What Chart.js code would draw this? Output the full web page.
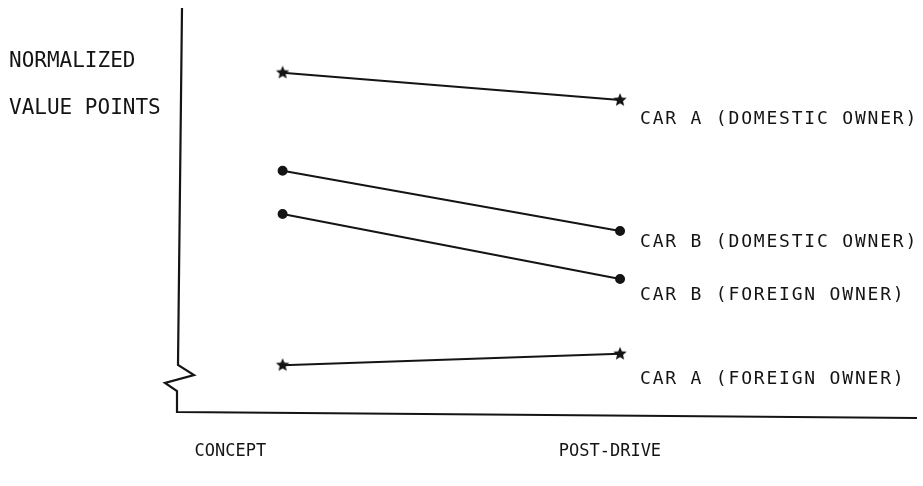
<!DOCTYPE html>
<html>
<head>
<meta charset="utf-8">
<script src="https://cdn.jsdelivr.net/npm/chart.js@4.4.0/dist/chart.umd.min.js"></script>
<style>
  html, body { margin: 0; background: #fff; }
</style>
</head>
<body>
<canvas id="chart" width="923" height="486"></canvas>
<script>
// data (arbitrary "value points" scale, 0-100)
const categories = ['CONCEPT', 'POST-DRIVE'];
const seriesNames = ['CAR A (DOMESTIC OWNER)', 'CAR B (DOMESTIC OWNER)', 'CAR B (FOREIGN OWNER)', 'CAR A (FOREIGN OWNER)'];
const carADomestic = [84, 77.2];
const carBDomestic = [59.7, 44.8];
const carBForeign = [49, 32.9];
const carAForeign = [11.6, 14.4];
const yTitle = ['NORMALIZED', 'VALUE POINTS'];

const ink = '#141414';
const mono = '"DejaVu Sans Mono", "Liberation Mono", monospace';

// filled five point star used as the Car A marker
function makeStar(r) {
  const c = document.createElement('canvas');
  c.width = c.height = r * 2 + 2;
  const g = c.getContext('2d');
  g.fillStyle = ink;
  g.beginPath();
  for (let i = 0; i < 10; i++) {
    const rad = i % 2 ? r * 0.45 : r;
    const a = -Math.PI / 2 + i * Math.PI / 5;
    g.lineTo(r + 1 + rad * Math.cos(a), r + 1 + rad * Math.sin(a));
  }
  g.closePath();
  g.fill();
  return c;
}
const star = makeStar(7);

const series = [carADomestic, carBDomestic, carBForeign, carAForeign];
const markers = [star, 'circle', 'circle', star];
const labelDy = [19, 11, 16, 26]; // end label offsets below the last point

const toPoints = arr => arr.map((v, i) => ({ x: i, y: v }));

// axes with the broken-scale zigzag, drawn by hand
const axesPlugin = {
  id: 'axes',
  beforeDatasetsDraw(chart) {
    const { ctx, chartArea: ca } = chart;
    ctx.save();
    ctx.strokeStyle = ink;
    ctx.lineWidth = 2.2;
    ctx.lineJoin = 'miter';
    ctx.beginPath();
    ctx.moveTo(ca.left + 4, ca.top);
    ctx.lineTo(ca.left, ca.bottom - 47);
    ctx.lineTo(ca.left + 16, ca.bottom - 37);
    ctx.lineTo(ca.left - 13, ca.bottom - 29);
    ctx.lineTo(ca.left - 1, ca.bottom - 21);
    ctx.lineTo(ca.left - 1, ca.bottom);
    ctx.lineTo(ca.right, ca.bottom + 6);
    ctx.stroke();
    ctx.restore();
  }
};

// y title at top left and series names at the line ends
const textPlugin = {
  id: 'texts',
  afterDraw(chart) {
    const { ctx } = chart;
    const xs = chart.scales.x, ys = chart.scales.y;
    ctx.save();
    ctx.fillStyle = ink;
    ctx.textBaseline = 'middle';
    ctx.font = '21px ' + mono;
    ctx.fillText(yTitle[0], 9, 62);
    ctx.fillText(yTitle[1], 9, 109);
    ctx.font = '18px ' + mono;
    ctx.letterSpacing = '1.8px';
    series.forEach((arr, i) => {
      const last = arr.length - 1;
      ctx.fillText(seriesNames[i], xs.getPixelForValue(last) + 20, ys.getPixelForValue(arr[last]) + labelDy[i]);
    });
    ctx.restore();
  }
};

new Chart(document.getElementById('chart'), {
  type: 'line',
  data: {
    datasets: series.map((arr, i) => ({
      label: seriesNames[i],
      data: toPoints(arr),
      borderColor: ink,
      backgroundColor: ink,
      borderWidth: 2,
      pointStyle: markers[i],
      pointRadius: 4,
      tension: 0
    }))
  },
  options: {
    responsive: false,
    animation: false,
    layout: { padding: { left: 178, right: 5, top: 8, bottom: 0 } },
    plugins: { legend: { display: false }, tooltip: { enabled: false } },
    scales: {
      x: {
        type: 'linear',
        min: -0.31,
        max: 1.88,
        grid: { display: false, drawTicks: false },
        border: { display: false },
        afterBuildTicks: scale => {
          const shift = [-0.155, -0.03];
          scale.ticks = categories.map((c, i) => ({ value: i + shift[i] }));
        },
        afterFit: scale => { scale.height = 74; },
        ticks: {
          autoSkip: false,
          maxRotation: 0,
          padding: 29,
          color: ink,
          font: { family: mono, size: 17 },
          callback: (v, idx) => categories[idx]
        }
      },
      y: {
        display: false,
        min: 0,
        max: 100
      }
    }
  },
  plugins: [axesPlugin, textPlugin]
});
</script>
</body>
</html>
